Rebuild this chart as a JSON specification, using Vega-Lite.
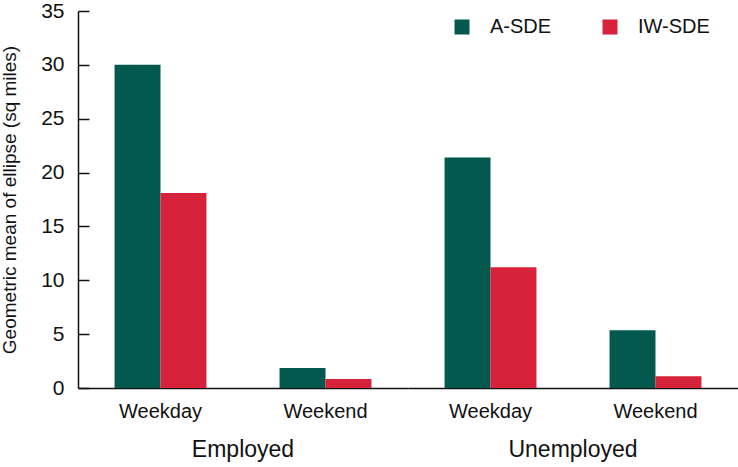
{
  "$schema": "https://vega.github.io/schema/vega-lite/v6.json",
  "padding": {"left": 0, "top": 0, "right": 0, "bottom": 0},
  "data": {"values": [
    {"status": "Employed", "day": "Weekday", "series": "A-SDE", "value": 30.0},
    {"status": "Employed", "day": "Weekday", "series": "IW-SDE", "value": 18.1},
    {"status": "Employed", "day": "Weekend", "series": "A-SDE", "value": 1.86},
    {"status": "Employed", "day": "Weekend", "series": "IW-SDE", "value": 0.84},
    {"status": "Unemployed", "day": "Weekday", "series": "A-SDE", "value": 21.4},
    {"status": "Unemployed", "day": "Weekday", "series": "IW-SDE", "value": 11.2},
    {"status": "Unemployed", "day": "Weekend", "series": "A-SDE", "value": 5.36},
    {"status": "Unemployed", "day": "Weekend", "series": "IW-SDE", "value": 1.1}
  ]},
  "facet": {
    "column": {
      "field": "status", "type": "nominal", "title": null,
      "header": {"labelOrient": "bottom", "labelFontSize": 23, "labelFont": "Liberation Sans", "labelColor": "#111", "labelPadding": 18}
    }
  },
  "spacing": 0,
  "spec": {
    "width": 330,
    "height": 377,
    "mark": {"type": "bar"},
    "encoding": {
      "x": {
        "field": "day", "type": "nominal", "title": null,
        "scale": {"paddingInner": 0.443, "paddingOuter": 0.2215},
        "axis": {"labelAngle": 0, "ticks": false, "labelPadding": 13, "labelFontSize": 20, "domainColor": "#111", "domainWidth": 1.5}
      },
      "xOffset": {"field": "series", "type": "nominal"},
      "y": {
        "field": "value", "type": "quantitative",
        "title": "Geometric mean of ellipse (sq miles)",
        "scale": {"domain": [0, 35], "nice": false},
        "axis": {"values": [0, 5, 10, 15, 20, 25, 30, 35], "grid": false, "tickSize": -11, "labelPadding": 25, "labelFontSize": 21, "titleFontSize": 19, "titleFontWeight": "normal", "titlePadding": 21, "domainColor": "#111", "tickColor": "#111", "domainWidth": 1.5, "tickWidth": 1.5}
      },
      "color": {
        "field": "series", "type": "nominal",
        "scale": {"domain": ["A-SDE", "IW-SDE"], "range": ["#03594D", "#D6233B"]},
        "legend": {"title": null, "orient": "none", "legendX": 374, "legendY": 6, "direction": "horizontal", "symbolType": "square", "symbolSize": 225, "symbolOpacity": 1, "labelFontSize": 20, "labelOffset": 18, "columnPadding": 48}
      }
    }
  },
  "config": {
    "font": "Liberation Sans",
    "view": {"stroke": null},
    "axis": {"labelColor": "#111", "titleColor": "#111", "labelFont": "Liberation Sans", "titleFont": "Liberation Sans"},
    "legend": {"labelColor": "#111", "labelFont": "Liberation Sans"}
  }
}
